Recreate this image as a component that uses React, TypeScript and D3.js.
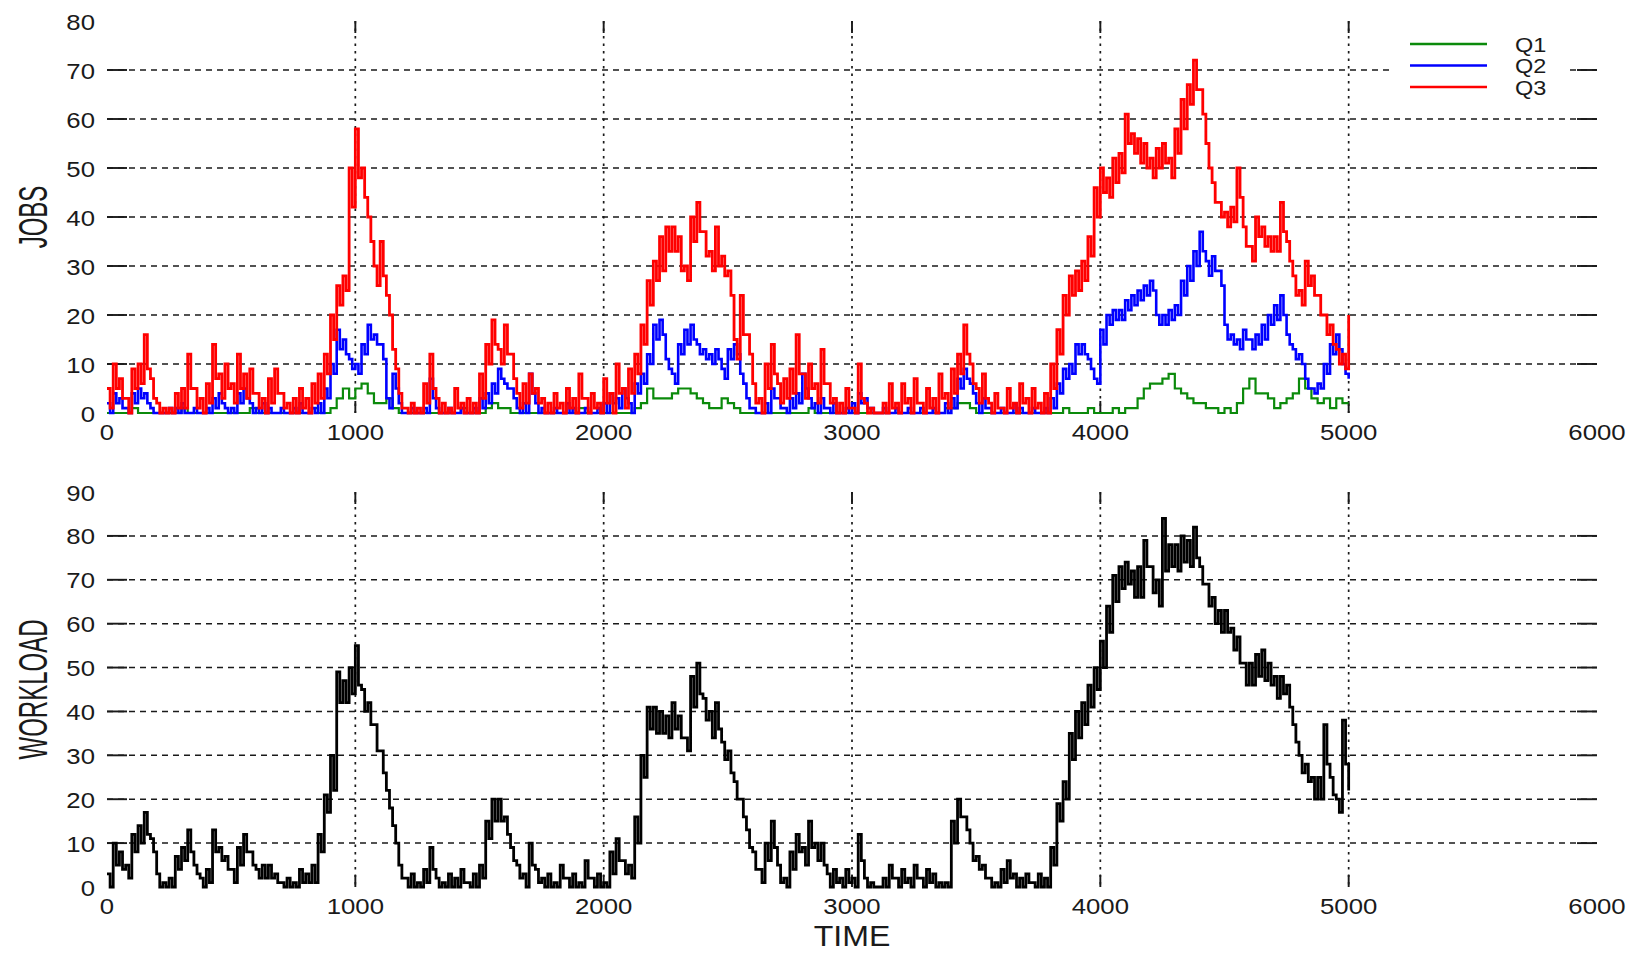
import React from "react";
import * as d3 from "d3";

// time step between samples; the "mid" arrays are readings of the lower edge
// of each noisy band, taken half a step after the matching main sample
const STEP = 25;
const HALF = 12.5;

const q1: number[] = [
  0,0,0,0,1,0,0,0,0,0,
  0,0,1,0,0,0,0,0,0,0,
  0,0,0,1,0,0,0,0,0,0,
  0,0,0,1,0,0,1,3,5,3,
  5,6,4,2,2,3,1,0,0,0,
  0,0,0,0,0,0,0,1,0,0,
  0,1,2,1,1,0,0,0,0,0,
  0,0,0,0,0,0,1,0,0,0,
  0,0,0,0,0,1,2,5,3,3,
  3,4,5,5,4,3,2,1,1,3,
  2,1,0,0,0,0,0,0,0,0,
  0,0,0,1,0,0,0,0,0,0,
  0,0,0,0,0,0,0,0,0,0,
  0,0,0,0,0,1,1,2,2,1,
  0,0,0,0,0,0,0,0,0,0,
  0,0,0,0,1,0,0,0,1,0,
  0,0,1,0,1,1,3,5,6,6,
  7,8,5,4,3,2,2,1,1,0,
  1,0,2,5,7,4,4,3,1,2,
  3,4,7,5,3,2,3,1,3,2,
  2,
];

const q2: number[] = [
  2,4,3,1,4,5,4,1,0,0,
  1,1,2,0,1,0,1,3,4,1,
  1,4,5,2,1,2,1,0,1,0,
  1,2,0,1,2,5,10,17,15,11,
  10,14,18,16,14,3,8,2,0,1,
  0,1,7,1,0,1,0,1,0,1,
  3,4,6,9,6,5,1,2,8,2,
  1,0,1,0,2,1,0,1,0,1,
  2,4,3,5,2,6,8,12,18,19,
  11,8,14,17,18,14,13,12,13,9,
  13,14,8,3,1,0,2,5,3,1,
  3,4,8,3,2,3,1,2,0,1,
  2,4,3,1,0,1,0,1,0,1,
  0,1,0,1,0,2,3,7,9,6,
  2,3,1,0,1,0,2,1,0,1,
  0,1,3,6,9,10,14,14,11,7,
  17,20,21,21,23,24,25,26,27,20,
  20,21,22,27,30,33,37,31,32,29,
  18,16,15,17,15,16,18,20,22,24,
  16,13,12,7,5,6,10,14,16,10,
  7,
];

const q2Mid: number[] = [
  0,2,1,0,2,3,2,0,0,0,
  0,0,0,0,0,0,0,1,2,0,
  0,2,3,0,0,0,0,0,0,0,
  0,0,0,0,0,3,8,13,12,9,
  8,12,15,14,11,1,5,0,0,0,
  0,0,3,0,0,0,0,0,0,0,
  1,2,4,7,5,3,0,0,4,0,
  0,0,0,0,0,0,0,0,0,0,
  0,2,1,3,0,4,6,10,15,16,
  9,6,12,14,15,12,11,10,11,7,
  11,12,6,1,0,0,0,3,1,0,
  1,2,5,1,0,1,0,0,0,0,
  0,2,1,0,0,0,0,0,0,0,
  0,0,0,0,0,0,1,5,7,4,
  0,1,0,0,0,0,0,0,0,0,
  0,0,1,4,7,8,12,12,9,6,
  14,18,19,19,21,22,23,24,25,18,
  18,19,20,24,27,30,33,28,29,26,
  15,14,13,15,13,14,15,18,19,20,
  14,11,10,5,4,5,8,12,13,8,
];

const q3: number[] = [
  5,10,7,3,9,10,16,7,2,1,
  1,4,5,12,5,3,6,14,8,10,
  6,12,8,9,4,3,7,9,4,2,
  3,5,3,6,8,12,20,26,28,50,
  58,50,40,30,35,24,13,4,1,2,
  1,6,12,3,2,1,5,2,3,2,
  8,14,19,13,18,12,4,6,8,5,
  3,2,4,2,5,3,8,3,4,2,
  7,4,10,5,9,12,18,27,31,36,
  38,38,36,30,40,43,37,33,38,32,
  29,15,24,16,6,3,10,14,6,7,
  9,16,8,10,6,13,6,3,2,5,
  1,10,2,1,0,2,6,2,6,3,
  7,2,5,3,8,4,9,12,18,10,
  5,8,2,4,1,5,2,6,3,5,
  2,4,10,17,24,28,29,31,36,46,
  50,48,52,53,61,57,56,55,52,54,
  55,52,58,64,67,72,66,55,47,43,
  41,42,50,38,34,40,38,36,36,43,
  35,28,25,31,28,24,20,18,13,12,
  20,
];

const q3Mid: number[] = [
  1,5,3,0,5,6,9,3,0,0,
  0,1,1,5,1,0,2,7,3,5,
  2,5,3,4,1,0,2,4,1,0,
  0,1,0,2,3,8,15,22,25,42,
  48,44,35,26,28,20,9,1,0,0,
  0,2,5,0,0,0,1,0,0,0,
  3,10,14,10,12,7,1,2,4,2,
  0,0,1,0,1,0,3,0,1,0,
  2,0,4,1,4,8,14,22,27,29,
  33,33,29,27,35,37,32,29,30,28,
  24,11,16,12,2,0,5,8,2,3,
  4,8,3,5,2,6,2,0,0,1,
  0,3,0,0,0,0,1,0,2,0,
  2,0,1,0,3,1,4,8,12,6,
  2,3,0,1,0,1,0,2,0,1,
  0,0,5,12,20,24,25,27,32,40,
  45,44,47,49,55,53,51,50,48,50,
  51,48,53,58,63,66,61,50,43,40,
  38,39,44,34,31,36,34,33,33,37,
  31,24,22,26,24,20,16,14,10,9,
];

const workload: number[] = [
  3,10,8,5,12,14,17,11,3,1,
  2,7,9,13,5,2,4,13,9,7,
  4,9,12,8,4,5,5,3,1,2,
  1,4,3,5,12,21,30,49,47,50,
  55,45,42,37,31,22,14,5,2,3,
  1,4,9,2,1,3,2,4,1,3,
  5,15,20,20,16,9,5,3,10,4,
  2,3,1,5,2,3,1,6,2,3,
  1,8,11,6,5,16,30,41,41,40,
  39,42,39,34,48,51,43,40,42,33,
  31,24,20,13,8,4,10,15,5,2,
  8,12,9,15,10,10,3,4,2,4,
  2,12,2,1,0,2,5,2,4,2,
  5,2,4,3,1,1,15,20,16,10,
  7,5,2,1,4,6,3,2,3,1,
  3,2,9,19,24,35,40,42,46,50,
  56,64,71,73,74,72,73,79,73,70,
  84,78,78,80,79,82,73,69,66,63,
  63,59,57,51,51,53,54,51,48,48,
  46,37,30,28,25,25,37,25,20,38,
  22,
];

const workloadMid: number[] = [
  0,5,4,2,8,10,12,8,0,0,
  0,4,6,8,3,0,1,8,6,4,
  1,5,8,5,2,2,2,1,0,0,
  0,1,1,1,8,17,22,42,42,44,
  46,40,37,31,26,18,10,2,0,0,
  0,1,4,0,0,0,0,1,0,0,
  2,11,15,15,12,6,2,0,5,1,
  0,0,0,2,0,0,0,2,0,0,
  0,3,6,3,2,10,25,36,35,35,
  34,36,34,31,41,44,38,34,36,29,
  26,20,16,9,4,1,6,9,1,0,
  4,8,5,9,6,5,0,1,0,1,
  0,6,0,0,0,0,2,0,1,0,
  2,0,1,0,0,0,10,16,13,6,
  4,2,0,0,1,2,0,0,1,0,
  0,0,5,15,20,29,34,37,41,45,
  50,58,65,68,69,66,66,73,67,64,
  72,73,72,74,73,75,69,64,60,58,
  58,54,51,46,46,48,47,46,43,44,
  41,33,26,24,20,20,28,21,17,28,
];

const xTicks = [0, 1000, 2000, 3000, 4000, 5000, 6000];
const jobsTicks = [0, 10, 20, 30, 40, 50, 60, 70, 80];
const workTicks = [0, 10, 20, 30, 40, 50, 60, 70, 80, 90];
const seriesNames = ["Q1", "Q2", "Q3"];
const seriesColors = ["#0b8a0b", "#0000ff", "#ff0000"];

const FONT = "'Liberation Sans', Arial, Helvetica, sans-serif";
const INK = "#1a1a1a";

type Pt = [number, number];

function toPoints(main: number[], mid?: number[]): Pt[] {
  const pts: Pt[] = [];
  main.forEach((v, i) => {
    pts.push([i * STEP, v]);
    if (mid && i < mid.length) pts.push([i * STEP + HALF, mid[i]]);
  });
  return pts;
}

function Panel({
  y,
  ticks,
  x,
}: {
  y: d3.ScaleLinear<number, number>;
  ticks: number[];
  x: d3.ScaleLinear<number, number>;
}) {
  const [x0, x1] = x.range();
  const [yb, yt] = y.range();
  const maxT = ticks[ticks.length - 1];
  return (
    <g>
      {ticks
        .filter((t) => t !== 0 && t !== maxT)
        .map((t) => (
          <g key={"h" + t}>
            <line x1={x0} x2={x1} y1={y(t)} y2={y(t)} stroke={INK} strokeWidth={1.5} strokeDasharray="6,5" />
            <line x1={x0} x2={x0 + 20} y1={y(t)} y2={y(t)} stroke={INK} strokeWidth={1.9} />
            <line x1={x1 - 20} x2={x1} y1={y(t)} y2={y(t)} stroke={INK} strokeWidth={1.9} />
          </g>
        ))}
      {xTicks
        .filter((t) => t !== 0 && t !== 6000)
        .map((t) => (
          <g key={"v" + t}>
            <line x1={x(t)} x2={x(t)} y1={yt} y2={yb} stroke={INK} strokeWidth={1.7} strokeDasharray="2.5,5" />
            <line x1={x(t)} x2={x(t)} y1={yt} y2={yt + 12} stroke={INK} strokeWidth={1.9} />
            <line x1={x(t)} x2={x(t)} y1={yb - 12} y2={yb} stroke={INK} strokeWidth={1.9} />
          </g>
        ))}
      {ticks.map((t) => (
        <text
          key={"yl" + t}
          transform={`translate(95,${y(t) + 8.5}) scale(1.12,1)`}
          textAnchor="end"
          fontFamily={FONT}
          fontSize={23}
          fill={INK}
        >
          {t}
        </text>
      ))}
      {xTicks.map((t) => (
        <text
          key={"xl" + t}
          transform={`translate(${x(t)},${yb + 27}) scale(1.12,1)`}
          textAnchor="middle"
          fontFamily={FONT}
          fontSize={23}
          fill={INK}
        >
          {t}
        </text>
      ))}
    </g>
  );
}

export default function App() {
  const W = 1638;
  const H = 953;
  const x = d3.scaleLinear().domain([0, 6000]).range([107, 1597]);
  const yTop = d3.scaleLinear().domain([0, 80]).range([413, 21]);
  const yBot = d3.scaleLinear().domain([0, 90]).range([887, 492]);

  const mkLine = (y: d3.ScaleLinear<number, number>) =>
    d3
      .line<Pt>()
      .x((d) => x(d[0]))
      .y((d) => y(d[1]))
      .curve(d3.curveStepAfter);

  const topLine = mkLine(yTop);
  const botLine = mkLine(yBot);
  const jobSeries: Pt[][] = [toPoints(q1), toPoints(q2, q2Mid), toPoints(q3, q3Mid)];
  const widths = [2.2, 2.6, 2.8];

  return (
    <svg
      width={W}
      height={H}
      viewBox={`0 0 ${W} ${H}`}
      style={{ position: "absolute", left: 0, top: 0, background: "#fff", display: "block" }}
    >
      <rect width={W} height={H} fill="#fff" />
      <Panel y={yTop} ticks={jobsTicks} x={x} />
      <Panel y={yBot} ticks={workTicks} x={x} />

      <rect x={1392} y={30} width={178} height={72} fill="#fff" />
      {seriesNames.map((n, i) => (
        <g key={n}>
          <line x1={1410} x2={1487} y1={44 + i * 21.5} y2={44 + i * 21.5} stroke={seriesColors[i]} strokeWidth={2.4} />
          <text
            transform={`translate(1515,${44 + i * 21.5 + 7.5}) scale(1.12,1)`}
            fontFamily={FONT}
            fontSize={21}
            fill={INK}
          >
            {n}
          </text>
        </g>
      ))}

      {jobSeries.map((s, i) => (
        <path key={i} d={topLine(s) || ""} fill="none" stroke={seriesColors[i]} strokeWidth={widths[i]} />
      ))}
      <path d={botLine(toPoints(workload, workloadMid)) || ""} fill="none" stroke="#000" strokeWidth={2.8} />

      <text
        transform={`translate(47,${(21 + 413) / 2}) rotate(-90) scale(0.6,1)`}
        textAnchor="middle"
        fontFamily={FONT}
        fontSize={40}
        fill={INK}
      >
        JOBS
      </text>
      <text
        transform={`translate(47,${(492 + 887) / 2}) rotate(-90) scale(0.6,1)`}
        textAnchor="middle"
        fontFamily={FONT}
        fontSize={40}
        fill={INK}
      >
        WORKLOAD
      </text>
      <text
        transform={`translate(${x(3000)},946) scale(1.07,1)`}
        textAnchor="middle"
        fontFamily={FONT}
        fontSize={30}
        fill={INK}
      >
        TIME
      </text>
    </svg>
  );
}
